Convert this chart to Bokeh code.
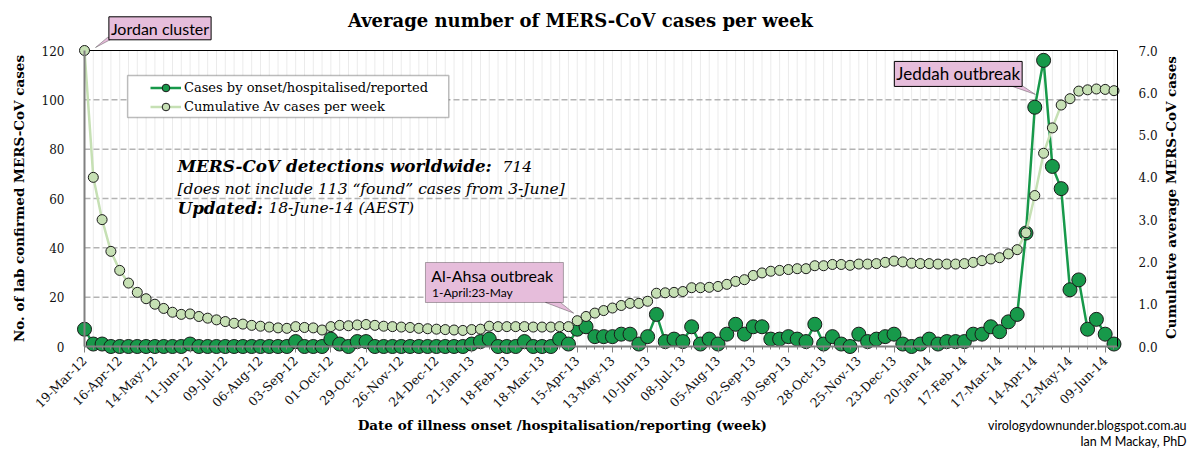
from math import pi
from bokeh.plotting import figure
from bokeh.models import (Range1d, LinearAxis, FixedTicker, PrintfTickFormatter, Label,
                          BoxAnnotation, PolyAnnotation, Legend, LegendItem)
from bokeh.embed import file_html
from bokeh.resources import INLINE

# semanas (indice 0 = 19-Mar-12), etiquetas cada 4 semanas
week_labels = ["19-Mar-12", "16-Apr-12", "14-May-12", "11-Jun-12", "09-Jul-12", "06-Aug-12",
               "03-Sep-12", "01-Oct-12", "29-Oct-12", "26-Nov-12", "24-Dec-12", "21-Jan-13",
               "18-Feb-13", "18-Mar-13", "15-Apr-13", "13-May-13", "10-Jun-13", "08-Jul-13",
               "05-Aug-13", "02-Sep-13", "30-Sep-13", "28-Oct-13", "25-Nov-13", "23-Dec-13",
               "20-Jan-14", "17-Feb-14", "17-Mar-14", "14-Apr-14", "12-May-14", "09-Jun-14"]

cases = [7, 1, 1, 0, 0, 0, 0, 0, 0, 0, 0, 0, 1, 0, 0, 0, 0, 0, 0, 0,
         0, 0, 0, 0, 2, 0, 0, 0, 3, 1, 0, 2, 2, 0, 0, 0, 0, 0, 0, 0,
         0, 0, 0, 0, 1, 2, 3, 0, 0, 0, 2, 0, 0, 0, 3, 1, 7, 8, 4, 4,
         4, 5, 5, 1, 4, 13, 2, 3, 2, 8, 1, 3, 1, 5, 9, 5, 8, 8, 3, 3,
         4, 3, 2, 9, 1, 4, 1, 0, 5, 2, 3, 4, 5, 1, 0, 1, 3, 1, 2, 2,
         2, 5, 5, 8, 6, 10, 13, 46, 97, 116, 73, 64, 23, 27, 7, 11, 5, 1]

cum_avg = [7.0, 4.0, 3.0, 2.25, 1.8, 1.5, 1.28, 1.13, 1.0, 0.9, 0.81, 0.76, 0.77, 0.71, 0.67,
           0.63, 0.59, 0.55, 0.53, 0.5, 0.48, 0.46, 0.44, 0.43, 0.47, 0.45, 0.44, 0.39, 0.47,
           0.5, 0.49, 0.51, 0.52, 0.5, 0.48, 0.47, 0.46, 0.45, 0.43, 0.42, 0.41, 0.4, 0.39,
           0.38, 0.4, 0.41, 0.48, 0.47, 0.47, 0.47, 0.47, 0.46, 0.46, 0.46, 0.47, 0.47, 0.61,
           0.71, 0.79, 0.85, 0.91, 0.97, 1.02, 1.02, 1.07, 1.26, 1.27, 1.28, 1.3, 1.39, 1.39,
           1.4, 1.42, 1.47, 1.54, 1.58, 1.68, 1.74, 1.78, 1.8, 1.82, 1.84, 1.84, 1.91, 1.91,
           1.94, 1.94, 1.92, 1.95, 1.95, 1.96, 1.99, 2.02, 2.0, 1.97, 1.96, 1.96, 1.95, 1.95,
           1.95, 1.96, 1.99, 2.03, 2.07, 2.1, 2.19, 2.29, 2.69, 3.57, 4.57, 5.17, 5.71, 5.86,
           6.04, 6.07, 6.09, 6.08, 6.05]

left_ticks = [0, 20, 40, 60, 80, 100, 120]
right_ticks = [0, 1, 2, 3, 4, 5, 6, 7]

weeks = list(range(len(cases)))

DARK = "#17994a"
LIGHT = "#c6e0b4"
PINK = "#e6bddb"
SERIF = "DejaVu Serif"
SANS = "Lato"

# area de datos: semanas 0..117.4 y casos 0..120; el marco ocupa todo el lienzo
X_END = 117.4
Y_TOP = 120
PXX = 1033 / X_END       # px por semana
PXY = 296 / Y_TOP        # px por caso
x0, x1 = -84 / PXX, X_END + 83 / PXX
y0, y1 = -111 / PXY, Y_TOP + 50 / PXY
CUM = 7 / 120

p = figure(frame_width=1200, frame_height=457, output_backend="svg", toolbar_location=None,
           x_range=Range1d(x0, x1), y_range=Range1d(y0, y1),
           x_axis_location=None, y_axis_location=None,
           min_border=0, min_border_left=0, min_border_right=0, min_border_top=0,
           min_border_bottom=0)
p.extra_y_ranges = {"cum": Range1d(y0 * CUM, y1 * CUM)}
p.outline_line_color = None
p.background_fill_color = "white"
p.border_fill_color = "white"
for g in p.grid:
    g.visible = False

# rejilla del area de datos
p.segment(x0=weeks, y0=0, x1=weeks, y1=Y_TOP, line_color="#ebebeb", line_width=1)
hg = left_ticks[1:-1]
p.segment(x0=0, y0=hg, x1=X_END, y1=hg, line_color="#b3b3b3", line_width=1.5, line_dash="6 3")
p.segment(x0=0, y0=Y_TOP, x1=X_END, y1=Y_TOP, line_color="black", line_width=1)

# eje x
xa = LinearAxis(fixed_location=0, bounds=(0, X_END),
                ticker=FixedTicker(ticks=list(range(0, len(cases), 4)), minor_ticks=weeks))
xa.major_label_overrides = {i * 4: lab for i, lab in enumerate(week_labels)}
xa.major_label_orientation = pi / 4
xa.major_label_text_font = SERIF
xa.major_label_text_font_size = "12.5px"
xa.major_label_text_color = "#111111"
xa.major_label_standoff = 6
xa.axis_line_color = "#808080"
xa.axis_line_width = 2
xa.major_tick_line_color = "#808080"
xa.minor_tick_line_color = "#808080"
xa.major_tick_in = 0
xa.major_tick_out = 6
xa.minor_tick_in = 0
xa.minor_tick_out = 3
p.add_layout(xa, "below")

# eje y izquierdo
ya = LinearAxis(fixed_location=0, bounds=(0, Y_TOP), ticker=FixedTicker(ticks=left_ticks))
ya.major_label_text_font = SERIF
ya.major_label_text_font_size = "12px"
ya.major_label_text_color = "#111111"
ya.major_label_standoff = 14
ya.axis_line_color = "#808080"
ya.axis_line_width = 2
ya.major_tick_line_color = None
ya.minor_tick_line_color = None
p.add_layout(ya, "left")

# eje y derecho
ra = LinearAxis(y_range_name="cum", fixed_location=X_END, bounds=(0, 7),
                ticker=FixedTicker(ticks=right_ticks), formatter=PrintfTickFormatter(format="%.1f"))
ra.major_label_text_font = SERIF
ra.major_label_text_font_size = "12px"
ra.major_label_text_color = "#111111"
ra.major_label_standoff = 15
ra.axis_line_color = "black"
ra.major_tick_line_color = None
ra.minor_tick_line_color = None
p.add_layout(ra, "right")

# series
l1 = p.line(weeks, cases, line_color=DARK, line_width=2.5)
s1 = p.scatter(weeks, cases, size=14, fill_color=DARK, line_color="#1a1a1a", line_width=1)
l2 = p.line(weeks, cum_avg, line_color=LIGHT, line_width=2.5, y_range_name="cum")
s2 = p.scatter(weeks, cum_avg, size=10, fill_color=LIGHT, line_color="#1a1a1a", line_width=1,
               y_range_name="cum")

# leyenda
p.add_layout(BoxAnnotation(left=4.9, right=41.4, bottom=92.8, top=109.9, fill_color="white",
                           fill_alpha=1, line_color="#222222", line_width=1.5))
legend = Legend(items=[LegendItem(label="Cases by onset/hospitalised/reported", renderers=[l1, s1]),
                       LegendItem(label="Cumulative Av cases per week", renderers=[l2, s2])],
                location=(150, 341), padding=0, margin=0, spacing=0, glyph_width=31,
                glyph_height=19, label_height=19, label_standoff=3,
                background_fill_alpha=0, border_line_color=None,
                label_text_font=SERIF, label_text_font_size="13px", label_text_color="black")
p.add_layout(legend)


def text(x, y, t, **kw):
    kw.setdefault("text_baseline", "middle")
    kw.setdefault("text_color", "black")
    p.add_layout(Label(x=x, y=y, text=t, **kw))


# titulo, titulos de ejes y firma
text(56.37, 132.2, "Average number of MERS-CoV cases per week", text_align="center",
     text_font=SERIF, text_font_style="bold", text_font_size="18px")
text(54.3, -32.0, "Date of illness onset /hospitalisation/reporting (week)",
     text_align="center", text_font=SERIF, text_font_style="bold", text_font_size="13.5px")
text(-7.5, 60.0, "No. of lab confirmed MERS-CoV cases", angle=pi / 2, text_align="center",
     text_font=SERIF, text_font_style="bold", text_font_size="13.5px")
text(123.5, 60.4, "Cumulative average MERS-CoV cases", angle=pi / 2, text_align="center",
     text_font=SERIF, text_font_style="bold", text_font_size="13.5px")
text(125.25, -32.0, "virologydownunder.blogspot.com.au", text_align="right",
     text_font=SANS, text_font_size="12.5px")
text(125.25, -38.5, "Ian M Mackay, PhD", text_align="right", text_font=SANS,
     text_font_size="12.5px")

# bloque de texto
text(10.57, 73.0, "MERS-CoV detections worldwide:", text_font=SERIF,
     text_font_style="bold italic", text_font_size="16.8px")
text(47.5, 73.0, "714", text_font=SERIF, text_font_style="italic", text_font_size="15.5px")
text(10.57, 64.05, "[does not include 113  \u201cfound\u201d cases from 3-June]",
     text_font=SERIF, text_font_style="italic", text_font_size="15.5px")
text(10.57, 56.35, "Updated:", text_font=SERIF, text_font_style="bold italic",
     text_font_size="16.8px")
text(20.9, 56.35, "18-June-14 (AEST)", text_font=SERIF, text_font_style="italic",
     text_font_size="15.5px")

# globo Jordan
p.add_layout(PolyAnnotation(xs=[1.25, 2.61, 3.41], ys=[121.2, 125.3, 125.3], fill_color=PINK,
                            fill_alpha=1, line_color="black", line_width=1))
text(8.58, 129.0, "Jordan cluster", text_align="center", text_font=SANS,
     text_font_size="16px", background_fill_color=PINK, border_line_color="black", padding=2)

# globo Al-Ahsa
p.add_layout(BoxAnnotation(left=38.75, right=54.43, bottom=17.84, top=34.05, fill_color=PINK,
                           fill_alpha=1, line_color="black", line_width=1))
p.add_layout(PolyAnnotation(xs=[52.4, 55.6, 54.1], ys=[17.84, 13.5, 17.84], fill_color=PINK,
                            fill_alpha=1, line_color="black", line_width=1))
text(39.4, 28.8, "Al-Ahsa outbreak", text_font=SANS, text_font_size="16px")
text(39.5, 21.9, "1-April:23-May", text_font=SANS, text_font_size="12px")

# globo Jeddah
p.add_layout(PolyAnnotation(xs=[104.5, 108.07, 106.2], ys=[106.6, 102.2, 106.6], fill_color=PINK,
                            fill_alpha=1, line_color="black", line_width=1))
text(99.3, 110.5, "Jeddah outbreak", text_align="center", text_font=SANS,
     text_font_size="17px", background_fill_color=PINK, border_line_color="black", padding=2)

open("out.html", "w").write(file_html(p, INLINE))
